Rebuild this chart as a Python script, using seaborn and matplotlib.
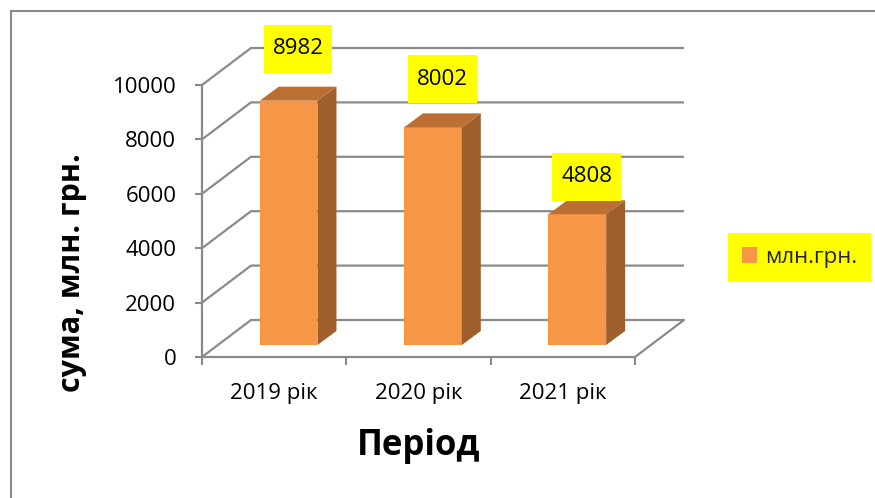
import numpy as np
import pandas as pd
import matplotlib
matplotlib.use("Agg")
import matplotlib.pyplot as plt
from matplotlib.patches import Polygon, Rectangle
import seaborn as sns

# ---- data ----
periods = ["2019 рік", "2020 рік", "2021 рік"]
values = [8982, 8002, 4808]
series_name = "млн.грн."
y_ticks = [0, 2000, 4000, 6000, 8000, 10000]
x_title = "Період"
y_title = "сума, млн. грн."

# ---- style ----
sns.set_theme(style="white")
plt.rcParams["font.family"] = ["Open Sans", "DejaVu Sans"]

FRONT = "#F79646"
TOP = "#BC6F33"
SIDE = "#9E5F2C"
GRID = "#8A8A8A"
LABEL_BG = "#FFFF00"

W, H = 875, 498
fig = plt.figure(figsize=(W / 100, H / 100), dpi=100)

# pixel geometry of the pseudo-3D frame
x0_px, y0_px = 202, 357          # front-left-bottom corner
px_cat = (635 - 202) / 3          # pixels per category
px_val = (357 - 85) / 10000       # pixels per value unit
DX_px, DY_px = 49, 37             # wall depth offset
DX, DY = DX_px / px_cat, DY_px / px_val
right_px = x0_px + 3 * px_cat + DX_px
top_px = y0_px - (10000 * px_val + DY_px)

ax = fig.add_axes([x0_px / W, (H - y0_px) / H,
                   (right_px - x0_px) / W, (y0_px - top_px) / H])

df = pd.DataFrame({"period": periods, "value": values})
sns.barplot(data=df, x="period", y="value", color=FRONT, saturation=1,
            width=0.4, label=series_name, ax=ax, zorder=3)

ax.set_xlim(-0.5, 2.5 + DX)
ax.set_ylim(0, 10000 + DY)
for s in ax.spines.values():
    s.set_visible(False)

# bar 3D offsets
BX = 0.10
BY = 12 / px_val
BDX = 19 / px_cat
BDY = 14 / px_val

bars = list(ax.patches)
for p, v in zip(bars, values):
    xl = p.get_x() + BX
    w = p.get_width()
    h = p.get_height()
    p.set_x(xl)
    p.set_y(BY)
    p.set_edgecolor("none")
    xr = xl + w
    b = BY
    t = BY + h
    side = Polygon([(xr, b), (xr + BDX, b + BDY), (xr + BDX, t + BDY), (xr, t)],
                   closed=True, facecolor=SIDE, edgecolor="none", zorder=3)
    top = Polygon([(xl, t), (xl + BDX, t + BDY), (xr + BDX, t + BDY), (xr, t)],
                  closed=True, facecolor=TOP, edgecolor="none", zorder=3)
    ax.add_patch(side)
    ax.add_patch(top)
    # value label
    cx = xl + w / 2 + BDX / 2
    ly = t + 0.127 * v + 760
    ax.text(cx, ly, f"{v}", ha="center", va="center", fontsize=16, color="black",
            bbox=dict(boxstyle="square,pad=0.4", facecolor=LABEL_BG, edgecolor="none",
                      mutation_aspect=1.5),
            zorder=6)

# walls / gridlines
for v in y_ticks:
    ax.plot([-0.5, -0.5 + DX, 2.5 + DX], [v, v + DY, v + DY], color=GRID, lw=1.6,
            zorder=1, clip_on=False, solid_capstyle="butt")
ax.plot([-0.5, 2.5, 2.5 + DX], [0, 0, DY], color=GRID, lw=1.6, zorder=2, clip_on=False)
ax.plot([-0.5, -0.5], [0, 10000], color=GRID, lw=1.6, zorder=2, clip_on=False)

# ticks
ax.set_yticks(y_ticks)
ax.set_yticklabels([str(t) for t in y_ticks])
ax.tick_params(axis="y", left=True, length=5, width=1.5, color=GRID, pad=13.5,
               labelsize=16, labelcolor="black")
ax.set_xticks([-0.5, 0.5, 1.5, 2.5], labels=["", "", "", ""])
ax.set_xticks([0, 1, 2], labels=periods, minor=True)
ax.tick_params(axis="x", which="major", bottom=True, length=6, width=1.5, color=GRID)
ax.tick_params(axis="x", which="minor", bottom=True, length=0, pad=19,
               labelsize=16, labelcolor="black")

# axis titles
ax.set_xlabel(x_title, fontsize=25, fontweight="bold", color="black", va="center")
ax.xaxis.set_label_coords((419 - x0_px) / (right_px - x0_px),
                          (y0_px - 446) / (y0_px - top_px))
ax.set_ylabel(y_title, fontsize=22, fontweight="bold", color="black", va="center")
ax.yaxis.set_label_coords((72 - x0_px) / (right_px - x0_px),
                          (y0_px - 273) / (y0_px - top_px))

# legend
handles, labels = ax.get_legend_handles_labels()
leg = ax.legend(handles, labels, loc="center",
                bbox_to_anchor=(799.5 / W, 1 - 257.5 / H), bbox_transform=fig.transFigure,
                facecolor=LABEL_BG, edgecolor="none", framealpha=1, fancybox=False,
                fontsize=16, handlelength=0.7, handleheight=0.7, handletextpad=0.35,
                borderpad=0.62, borderaxespad=0)
leg.get_frame().set_linewidth(0)

# outer chart border (extends beyond right/bottom edge)
fig.patches.append(Rectangle((11 / W, -0.5), 2, (1 - 11 / H) + 0.5,
                             transform=fig.transFigure, fill=False,
                             edgecolor=GRID, lw=1.5))

fig.savefig("out.png", dpi=100)
